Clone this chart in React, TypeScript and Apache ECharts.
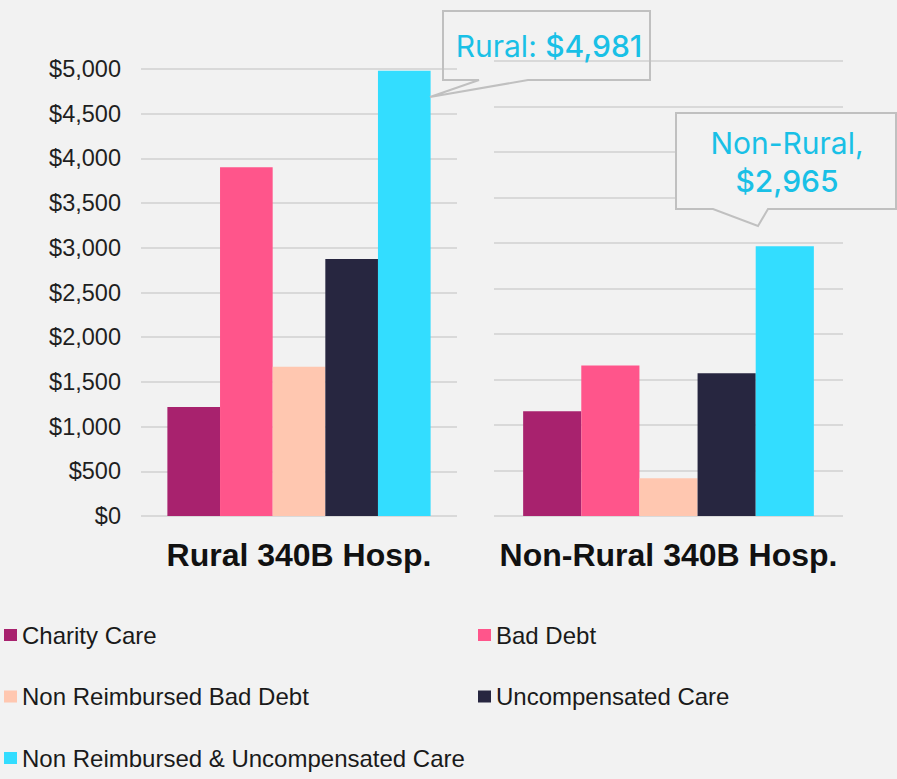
import React, { useEffect, useRef } from "react";
import * as echarts from "echarts";

const categories = ["Rural 340B Hosp.", "Non-Rural 340B Hosp."];
const seriesNames = [
  "Charity Care",
  "Bad Debt",
  "Non Reimbursed Bad Debt",
  "Uncompensated Care",
  "Non Reimbursed & Uncompensated Care",
];
const seriesColors = ["#a8226e", "#ff558b", "#ffc7b0", "#272640", "#33ddff"];
const ruralValues = [1220, 3900, 1670, 2875, 4981];
const nonRuralValues = [1150, 1655, 415, 1570, 2965];
const yMin = 0;
const yMax = 5000;
const yInterval = 500;

const fmt = (v: number) => "$" + v.toLocaleString("en-US");

export default function App() {
  const ref = useRef<HTMLDivElement>(null);
  useEffect(() => {
    document.body.style.margin = "0";
    const chart = echarts.init(ref.current!, undefined, { renderer: "svg" });
    const font = "'Liberation Sans', Arial, sans-serif";
    const calloutFont = "Inter, 'Noto Sans', sans-serif";
    const calloutColor = "#19c0e6";
    const grids = [
      { left: 141, right: 440, top: 69, height: 447 },
      { left: 494, right: 54, top: 61, height: 455 },
    ];
    const xAxes = categories.map((c, i) => ({
      type: "category",
      gridIndex: i,
      data: [c],
      axisLine: { show: false },
      axisTick: { show: false },
      axisLabel: {
        margin: 23,
        fontSize: 32,
        fontWeight: "bold",
        fontFamily: font,
        color: "#111111",
      },
    }));
    const yAxes = categories.map((_, i) => ({
      type: "value",
      gridIndex: i,
      min: yMin,
      max: yMax,
      interval: yInterval,
      axisLine: { show: false },
      axisTick: { show: false },
      axisLabel: {
        show: i === 0,
        margin: 20,
        fontSize: 23.5,
        fontFamily: font,
        color: "#1f1f1f",
        formatter: (v: number) => fmt(v),
      },
      splitLine: { lineStyle: { color: "#d9d9d9", width: 2 } },
    }));
    const series: any[] = [];
    [ruralValues, nonRuralValues].forEach((vals, gi) => {
      seriesNames.forEach((name, si) => {
        series.push({
          type: "bar",
          name,
          xAxisIndex: gi,
          yAxisIndex: gi,
          data: [vals[si]],
          barGap: "0%",
          barCategoryGap: "16.7%",
          itemStyle: { color: seriesColors[si] },
        });
      });
    });
    const legendCommon = {
      orient: "vertical",
      top: 623,
      padding: 0,
      icon: "rect",
      itemWidth: 13,
      itemHeight: 12,
      itemGap: 37.5,
      textStyle: {
        fontSize: 24,
        lineHeight: 24,
        fontFamily: font,
        color: "#1a1a1a",
      },
      selectedMode: false,
    };
    const ruralTotal = ruralValues[4];
    const nonRuralTotal = nonRuralValues[4];
    chart.setOption({
      animation: false,
      backgroundColor: "#f2f2f2",
      grid: grids,
      xAxis: xAxes,
      yAxis: yAxes,
      series,
      legend: [
        { ...legendCommon, left: 4, data: [seriesNames[0], seriesNames[2], seriesNames[4]] },
        { ...legendCommon, left: 478, data: [seriesNames[1], seriesNames[3]] },
      ],
      graphic: [
        {
          type: "polygon",
          z: 100,
          shape: {
            points: [
              [443, 11],
              [650, 11],
              [650, 80],
              [528, 80],
              [430, 97],
              [479, 80],
              [443, 80],
            ],
          },
          style: { fill: "none", stroke: "#c0c0c0", lineWidth: 2 },
        },
        {
          type: "text",
          z: 101,
          x: 549,
          y: 46,
          style: {
            text: "{a|Rural: }{b|" + fmt(ruralTotal) + "}",
            align: "center",
            verticalAlign: "middle",
            rich: {
              a: { fontSize: 30, fontFamily: calloutFont, fill: calloutColor, fontWeight: 400 },
              b: { fontSize: 30, fontFamily: calloutFont, fill: calloutColor, fontWeight: 500 },
            },
          },
        },
        {
          type: "polygon",
          z: 100,
          shape: {
            points: [
              [676, 113],
              [896, 113],
              [896, 209],
              [768, 209],
              [758, 226],
              [713, 209],
              [676, 209],
            ],
          },
          style: { fill: "#f2f2f2", stroke: "#c0c0c0", lineWidth: 2 },
        },
        {
          type: "text",
          z: 101,
          x: 787,
          y: 143,
          style: {
            text: "Non-Rural,",
            align: "center",
            verticalAlign: "middle",
            fontSize: 30,
            fontFamily: calloutFont,
            fill: calloutColor,
            fontWeight: 400,
          },
        },
        {
          type: "text",
          z: 101,
          x: 787,
          y: 181,
          style: {
            text: fmt(nonRuralTotal),
            align: "center",
            verticalAlign: "middle",
            fontSize: 30,
            fontFamily: calloutFont,
            fill: calloutColor,
            fontWeight: 500,
          },
        },
      ],
    });
    return () => chart.dispose();
  }, []);
  return <div ref={ref} style={{ width: 897, height: 779 }} />;
}
